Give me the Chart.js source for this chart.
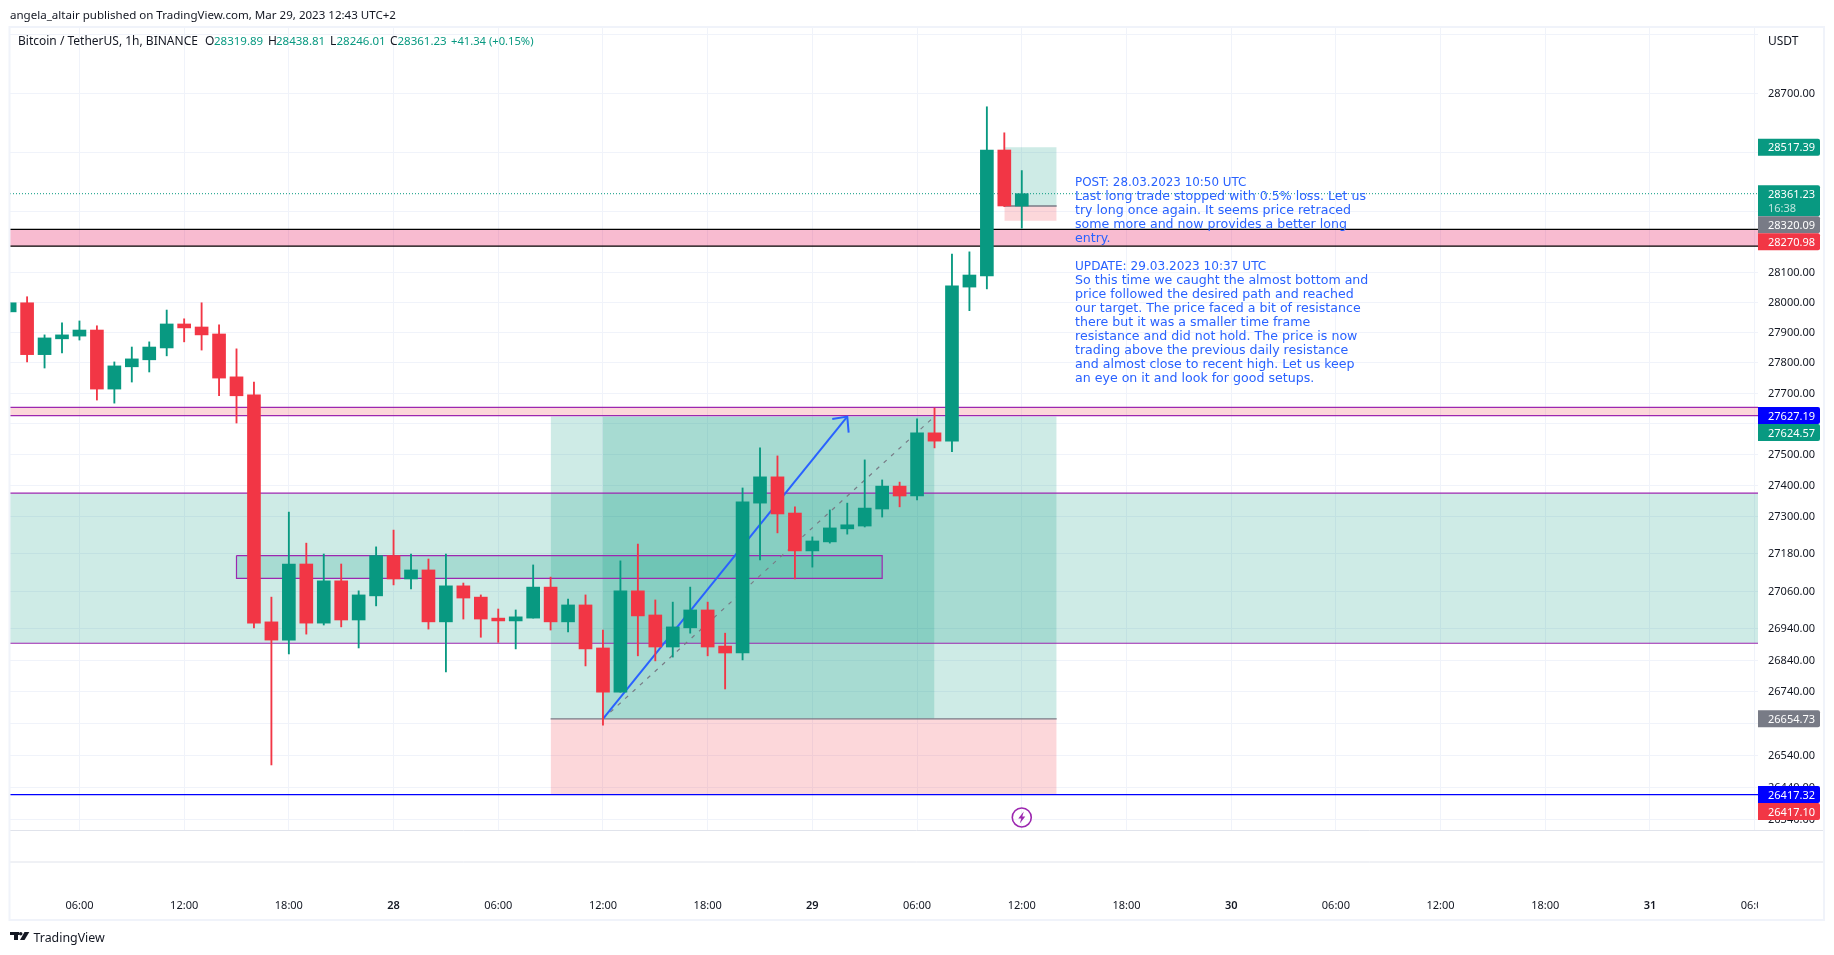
<!DOCTYPE html>
<html>
<head>
<meta charset="utf-8">
<title>Bitcoin / TetherUS, 1h, BINANCE</title>
<script src="https://cdn.jsdelivr.net/npm/chart.js@4"></script>
<style>
    html, body { margin: 0; padding: 0; background: #ffffff; }
    canvas { display: block; }
</style>
</head>
<body>
<canvas id="btcChart" width="1834" height="955"></canvas>
<script>
// Hours since 27 Mar 00:00, one candle per hour
const hours = [2,3,4,5,6,7,8,9,10,11,12,13,14,15,16,17,18,19,20,21,22,23,24,25,26,27,28,29,30,31,32,33,34,35,36,37,38,39,40,41,42,43,44,45,46,47,48,49,50,51,52,53,54,55,56,57,58,59,60];
const opens = [27968,27998,27827,27879,27888,27908,27714,27787,27810,27849,27928,27918,27895,27754,27695,26962,26904,27147,26958,27093,26968,27045,27174,27099,27128,26962,27077,27041,26974,26965,26974,27073,26962,27016,26879,26739,27061,26984,26882,26943,27000,26885,26863,27343,27428,27311,27189,27218,27260,27269,27324,27398,27366,27571,27544,28050,28087,28508,28319.89];
const highs = [27998,28018,27892,27932,27938,27922,27803,27852,27869,27974,27945,27998,27925,27846,27737,27041,27314,27214,27179,27147,27061,27202,27256,27179,27163,27179,27086,27048,27003,27000,27144,27105,27035,27048,26936,27157,27211,27032,27025,27073,27025,26926,27392,27522,27496,27331,27234,27321,27343,27483,27418,27411,27617,27652,28160,28167,28654,28566,28438.81];
const lows = [27968,27803,27783,27833,27875,27678,27668,27737,27770,27823,27869,27842,27692,27603,26943,26510,26860,26923,26952,26946,26879,27013,27080,27067,26939,26803,26971,26913,26897,26876,26974,26936,26930,26822,26635,26739,26854,26838,26850,26926,26854,26749,26841,27160,27247,27099,27137,27214,27243,27266,27298,27331,27353,27522,27510,27972,28044,28318,28246.01];
const closes = [27998,27827,27882,27892,27908,27714,27790,27813,27852,27928,27915,27892,27750,27692,26958,26904,27147,26958,27093,26968,27048,27174,27099,27128,26962,27077,27038,26971,26965,26978,27073,26962,27016,26876,26739,27061,26981,26882,26946,27000,26882,26863,27347,27428,27308,27189,27221,27263,27273,27327,27398,27366,27571,27544,28054,28090,28508,28320.09,28361.23];

const priceTicks = [28900,28700,28500,28300,28100,28000,27900,27800,27700,27600,27500,27400,27300,27180,27060,26940,26840,26740,26640,26540,26440,26340];
// these ticks keep their grid line but lose the label to a price tag
const unlabelledTicks = [28900,28500,28300,27600,26640];
const timeTicks = [6,12,18,24,30,36,42,48,54,60,66,72,78,84,90,96,102];
const timeLabels = ['06:00','12:00','18:00','28','06:00','12:00','18:00','29','06:00','12:00','18:00','30','06:00','12:00','18:00','31','06:00'];

// Drawings, in hours and prices
const arrowHours = [36, 50];
const arrowPrices = [26654.73, 27624];
const arrowHeadHours = [49.14, 50, 50.08];
const arrowHeadPrices = [27616, 27624, 27572];
const dashHours = [36, 55];
const dashPrices = [26654.73, 27624.57];
const pinkBand = [28242, 28186];
const redBand = [27654, 27627.19];
const greenBand = [27375, 26894];
const boxBand = [27174, 27101];
const boxHours = [15, 52];
const longHours = [33, 62];
const longInnerHours = [36, 55];
const longPrices = [27624.57, 26654.73, 26417.10];
const shortHours = [59, 62];
const shortPrices = [28517.39, 28320.09, 28270.98];
const lastPrice = 28361.23;
const supportPrice = 26417.32;
const eventHour = 60;
const eventPrice = 26346;

const tagPrices = [28517.39, 28361.23, 28320.09, 28270.98, 27627.19, 27624.57, 26654.73, 26417.32, 26417.10];
const tagTexts = ['28517.39','28361.23','28320.09','28270.98','27627.19','27624.57','26654.73','26417.32','26417.10'];

const noteLines = [
    'POST: 28.03.2023 10:50 UTC',
    'Last long trade stopped with 0.5% loss. Let us',
    'try long once again. It seems price retraced',
    'some more and now provides a better long',
    'entry.',
    '',
    'UPDATE: 29.03.2023 10:37 UTC',
    'So this time we caught the almost bottom and',
    'price followed the desired path and reached',
    'our target. The price faced a bit of resistance',
    'there but it was a smaller time frame',
    'resistance and did not hold. The price is now',
    'trading above the previous daily resistance',
    'and almost close to recent high. Let us keep',
    'an eye on it and look for good setups.'
];

const UP = '#089981';
const DOWN = '#f23645';
const PURPLE = '#9c27b0';
const GRID = '#f0f3fa';
const TEXT = '#131722';
const GREY = '#787b86';
const FONT = '"Noto Sans", sans-serif';
const tagColors = [UP, UP, GREY, DOWN, '#0000ff', UP, GREY, '#0000ff', DOWN];

const AREA = { left: 10, top: 28, right: 1758, bottom: 830 };

function lineSet(xs, ys, color, width, order, extra) {
    return Object.assign({
        type: 'line',
        data: xs.map((x, i) => ({ x: x, y: ys[i] })),
        borderColor: color,
        borderWidth: width,
        pointRadius: 0,
        fill: false,
        order: order
    }, extra || {});
}

function bandSet(x0, x1, top, bottom, color, order) {
    return lineSet([x0, x1], [top, top], 'rgba(0,0,0,0)', 0, order, {
        fill: { value: bottom },
        backgroundColor: color
    });
}

const xMin = 2.02;
const xMax = 102.19;
const green20 = 'rgba(8,153,129,0.2)';
const red20 = 'rgba(242,54,69,0.2)';

const datasets = [
    // candles, bodies sit on top of wicks
    {
        type: 'bar',
        data: hours.map((h, i) => ({ x: h, y: [opens[i], closes[i]] })),
        backgroundColor: hours.map((h, i) => closes[i] >= opens[i] ? UP : DOWN),
        barThickness: 13,
        grouped: false,
        order: 1
    },
    {
        type: 'bar',
        data: hours.map((h, i) => ({ x: h, y: [lows[i], highs[i]] })),
        backgroundColor: hours.map((h, i) => closes[i] >= opens[i] ? UP : DOWN),
        barThickness: 1.2,
        grouped: false,
        order: 2
    },
    // trend arrow and dashed path go under the candles
    lineSet(arrowHours, arrowPrices, '#2962ff', 2, 3),
    lineSet(arrowHeadHours, arrowHeadPrices, '#2962ff', 2, 3),
    lineSet(dashHours, dashPrices, GREY, 1.2, 3, { borderDash: [4, 6] }),
    lineSet([xMin, xMax], [lastPrice, lastPrice], UP, 1, 3, { borderDash: [1, 2] }),
    // horizontal levels
    lineSet([xMin, xMax], [supportPrice, supportPrice], '#0000ff', 1.3, 4),
    lineSet([xMin, xMax], [pinkBand[0], pinkBand[0]], '#000000', 1.3, 4),
    lineSet([xMin, xMax], [pinkBand[1], pinkBand[1]], '#000000', 1.3, 4),
    lineSet([xMin, xMax], [redBand[0], redBand[0]], PURPLE, 1.2, 4),
    lineSet([xMin, xMax], [redBand[1], redBand[1]], PURPLE, 1.2, 4),
    lineSet([xMin, xMax], [greenBand[0], greenBand[0]], PURPLE, 1.2, 4),
    lineSet([xMin, xMax], [greenBand[1], greenBand[1]], PURPLE, 1.2, 4),
    lineSet([boxHours[0], boxHours[1], boxHours[1], boxHours[0], boxHours[0]],
        [boxBand[0], boxBand[0], boxBand[1], boxBand[1], boxBand[0]], PURPLE, 1.2, 4),
    lineSet(longHours, [longPrices[1], longPrices[1]], GREY, 1.3, 4),
    lineSet(shortHours, [shortPrices[1], shortPrices[1]], GREY, 1.3, 4),
    // shaded zones
    bandSet(xMin, xMax, pinkBand[0], pinkBand[1], 'rgba(233,30,99,0.3)', 5),
    bandSet(xMin, xMax, redBand[0], redBand[1], red20, 5),
    bandSet(xMin, xMax, greenBand[0], greenBand[1], green20, 5),
    bandSet(boxHours[0], boxHours[1], boxBand[0], boxBand[1], green20, 5),
    bandSet(longHours[0], longHours[1], longPrices[0], longPrices[1], green20, 5),
    bandSet(longInnerHours[0], longInnerHours[1], longPrices[0], longPrices[1], green20, 5),
    bandSet(longHours[0], longHours[1], longPrices[1], longPrices[2], red20, 5),
    bandSet(shortHours[0], shortHours[1], shortPrices[0], shortPrices[1], green20, 5),
    bandSet(shortHours[0], shortHours[1], shortPrices[1], shortPrices[2], red20, 5)
];

function drawText(ctx, str, x, y, color, font) {
    ctx.fillStyle = color;
    ctx.font = font;
    ctx.fillText(str, x, y);
}

function drawHeader(ctx) {
    const f = '12px ' + FONT;
    ctx.textAlign = 'left';
    ctx.textBaseline = 'middle';
    drawText(ctx, 'angela_altair published on TradingView.com, Mar 29, 2023 12:43 UTC+2', 10, 15.5, TEXT, '11.55px ' + FONT);
    drawText(ctx, 'Bitcoin / TetherUS, 1h, BINANCE', 18, 42, TEXT, f);
    drawText(ctx, 'O', 205, 42, TEXT, f);
    drawText(ctx, '28319.89', 214, 42, UP, '11.5px ' + FONT);
    drawText(ctx, 'H', 268, 42, TEXT, f);
    drawText(ctx, '28438.81', 276, 42, UP, '11.5px ' + FONT);
    drawText(ctx, 'L', 330, 42, TEXT, f);
    drawText(ctx, '28246.01', 336.5, 42, UP, '11.5px ' + FONT);
    drawText(ctx, 'C', 390, 42, TEXT, f);
    drawText(ctx, '28361.23', 397.5, 42, UP, '11.5px ' + FONT);
    drawText(ctx, '+41.34 (+0.15%)', 451, 42, UP, '11.2px ' + FONT);
    drawText(ctx, 'USDT', 1768, 41.5, TEXT, f);
}

function drawNotes(ctx) {
    ctx.textAlign = 'left';
    ctx.textBaseline = 'middle';
    noteLines.forEach((line, i) => {
        // the two date lines run narrower than the body text in the reference
        const size = i === 0 ? 11.9 : i === 6 ? 12.1 : 12.6;
        drawText(ctx, line, 1075, 182.5 + i * 14, '#2962ff', size + 'px "DejaVu Sans", sans-serif');
    });
}

function drawEventIcon(ctx, yScale, xScale) {
    const cx = xScale.getPixelForValue(eventHour);
    const cy = yScale.getPixelForValue(eventPrice);
    ctx.strokeStyle = PURPLE;
    ctx.lineWidth = 1.6;
    ctx.beginPath();
    ctx.arc(cx, cy, 9.5, 0, Math.PI * 2);
    ctx.stroke();
    ctx.fillStyle = PURPLE;
    ctx.beginPath();
    ctx.moveTo(cx + 2, cy - 6);
    ctx.lineTo(cx - 3.5, cy + 1);
    ctx.lineTo(cx - 0.5, cy + 1);
    ctx.lineTo(cx - 2, cy + 6);
    ctx.lineTo(cx + 3.5, cy - 1);
    ctx.lineTo(cx + 0.5, cy - 1);
    ctx.closePath();
    ctx.fill();
}

function drawTags(ctx, yScale) {
    let prevBottom = 0;
    ctx.textAlign = 'left';
    ctx.textBaseline = 'middle';
    tagPrices.forEach((price, i) => {
        const isLast = price === lastPrice;
        const h = isLast ? 31 : 17;
        const top = Math.max(yScale.getPixelForValue(price) - 8.5, prevBottom);
        ctx.fillStyle = tagColors[i];
        ctx.beginPath();
        ctx.roundRect(AREA.right, top, 62, h, [0, 2, 2, 0]);
        ctx.fill();
        drawText(ctx, tagTexts[i], 1768, top + 9.3, '#ffffff', '11px ' + FONT);
        if (isLast) {
            drawText(ctx, '16:38', 1768, top + 23.3, 'rgba(255,255,255,0.75)', '11px ' + FONT);
        }
        prevBottom = top + h;
    });
}

function drawFrame(ctx) {
    // the time axis label at the far right is cut by the price panel
    ctx.fillStyle = '#ffffff';
    ctx.fillRect(AREA.right, 890, 64, 28);
    ctx.strokeStyle = '#e0e3eb';
    ctx.lineWidth = 1;
    ctx.beginPath();
    ctx.moveTo(10, 830.5);
    ctx.lineTo(1823, 830.5);
    ctx.moveTo(10, 862);
    ctx.lineTo(1823, 862);
    ctx.stroke();
    ctx.strokeStyle = GRID;
    ctx.lineWidth = 2;
    ctx.strokeRect(9.5, 27, 1814.5, 893);
}

function drawBrand(ctx) {
    ctx.fillStyle = '#131722';
    ctx.fillRect(10, 932, 9, 3);
    ctx.fillRect(14, 932, 4, 8);
    ctx.beginPath();
    ctx.arc(20.7, 933.8, 1.8, 0, Math.PI * 2);
    ctx.fill();
    ctx.beginPath();
    ctx.moveTo(24.5, 932);
    ctx.lineTo(29.3, 932);
    ctx.lineTo(24.5, 940);
    ctx.lineTo(20, 940);
    ctx.closePath();
    ctx.fill();
    ctx.textAlign = 'left';
    ctx.textBaseline = 'middle';
    drawText(ctx, 'TradingView', 33.5, 938, '#131722', '12.4px ' + FONT);
}

const overlayPlugin = {
    id: 'overlay',
    afterDatasetsDraw(chart) {
        const ctx = chart.ctx;
        ctx.save();
        drawEventIcon(ctx, chart.scales.y, chart.scales.x);
        drawNotes(ctx);
        ctx.restore();
    },
    afterDraw(chart) {
        const ctx = chart.ctx;
        ctx.save();
        drawFrame(ctx);
        drawTags(ctx, chart.scales.y);
        drawHeader(ctx);
        drawBrand(ctx);
        ctx.restore();
    }
};

new Chart(document.getElementById('btcChart'), {
    data: { datasets: datasets },
    plugins: [overlayPlugin],
    options: {
        responsive: false,
        animation: false,
        devicePixelRatio: 1,
        layout: { padding: { left: AREA.left, top: AREA.top, right: 0, bottom: 0 } },
        plugins: {
            legend: { display: false },
            tooltip: { enabled: false }
        },
        scales: {
            x: {
                type: 'linear',
                offset: false,
                min: xMin,
                max: xMax,
                afterBuildTicks(scale) { scale.ticks = timeTicks.map(v => ({ value: v })); },
                afterFit(scale) {
                    scale.height = 955 - AREA.bottom;
                    scale.paddingLeft = 0;
                    scale.paddingRight = 0;
                },
                grid: { color: GRID, drawTicks: false, offset: false },
                border: { display: false },
                ticks: {
                    autoSkip: false,
                    maxRotation: 0,
                    padding: 69,
                    color: TEXT,
                    font: ctx => ({
                        family: FONT,
                        size: 11,
                        weight: timeLabels[ctx.index] && timeLabels[ctx.index].length === 2 ? '600' : '400'
                    }),
                    callback: (v, i) => timeLabels[i]
                }
            },
            y: {
                type: 'logarithmic',
                position: 'right',
                min: 26307,
                max: 28922,
                afterBuildTicks(scale) { scale.ticks = priceTicks.map(v => ({ value: v })); },
                afterFit(scale) {
                    scale.width = 1834 - AREA.right;
                    scale.paddingTop = 0;
                    scale.paddingBottom = 0;
                },
                grid: { color: GRID, drawTicks: false },
                border: { display: false },
                ticks: {
                    autoSkip: false,
                    padding: 10,
                    labelOffset: 0.5,
                    color: TEXT,
                    font: { family: FONT, size: 11 },
                    callback: v => unlabelledTicks.includes(v) ? '' : v.toFixed(2)
                }
            }
        }
    }
});
</script>
</body>
</html>
